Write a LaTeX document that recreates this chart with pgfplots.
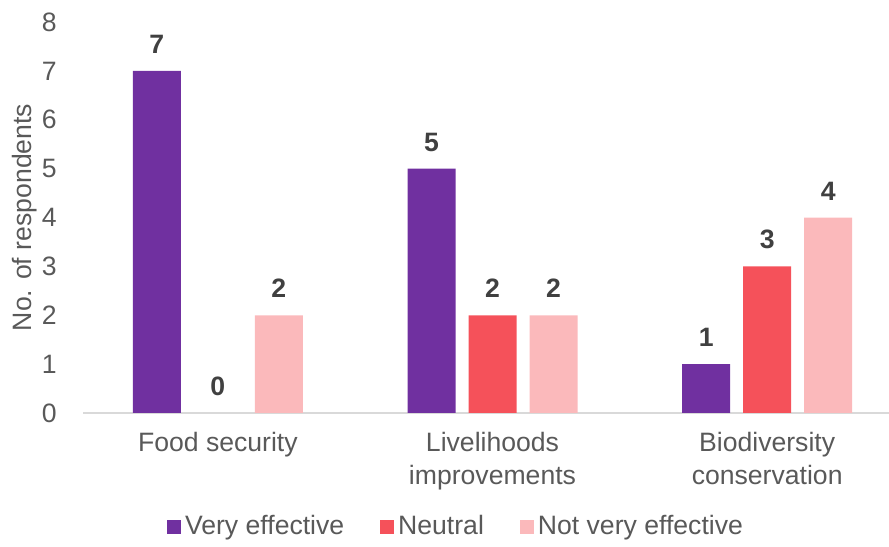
\documentclass[border=0pt]{standalone}
\usepackage{fontspec}
\setmainfont{Liberation Sans}
\usepackage{pgfplots}
\pgfplotsset{compat=1.18}
\definecolor{cPurple}{HTML}{7030A0}
\definecolor{cRed}{HTML}{F5515A}
\definecolor{cPink}{HTML}{FBB9BB}
\definecolor{txt}{HTML}{595959}
\definecolor{lbl}{HTML}{404040}
\definecolor{axl}{HTML}{D9D9D9}
\begin{document}
\begin{tikzpicture}
\fontsize{13.3bp}{16.5bp}\selectfont
\begin{axis}[
  at={(41.5bp,67bp)}, anchor=south west,
  scale only axis, width=403bp, height=195.5bp,
  ybar=6.5bp, bar width=24bp,
  xmin=-0.491, xmax=2.4436, ymin=0, ymax=8,
  xtick={0,1,2},
  xticklabels={{Food security},{Livelihoods\\improvements},{Biodiversity\\conservation}},
  ytick={0,1,...,8},
  major tick length=0,
  axis x line*=bottom, axis y line*=left,
  axis line style={-},
  x axis line style={draw=axl, line width=0.75bp},
  y axis line style={draw=none},
  /pgf/number format/assume math mode=true,
  tick label style={font=\fontsize{13.3bp}{16.5bp}\selectfont, text=txt},
  xticklabel style={align=center, anchor=north, yshift=-5bp},
  yticklabel style={anchor=east, xshift=-8.5bp},
  ylabel={No. of respondents},
  ylabel style={at={(axis description cs:-0.073,0.5)}, anchor=center, rotate=0, font=\fontsize{13.3bp}{16bp}\selectfont, text=txt},
  nodes near coords,
  nodes near coords style={font=\bfseries\fontsize{13.3bp}{16bp}\selectfont, text=lbl, yshift=4bp},
  legend columns=3,
  legend style={at={(axis description cs:0.464,-0.2916)}, anchor=center, draw=none,
    font=\fontsize{13.3bp}{16bp}\selectfont, text=txt,
    /tikz/every even column/.append style={column sep=16bp}},
  legend image code/.code={\fill[#1] (0bp,-3.5bp) rectangle (7bp,3.5bp);},
]
\addplot[fill=cPurple, draw=none] coordinates {(0,7) (1,5) (2,1)};
\addplot[fill=cRed, draw=none] coordinates {(0,0) (1,2) (2,3)};
\addplot[fill=cPink, draw=none] coordinates {(0,2) (1,2) (2,4)};
\legend{Very effective, Neutral, Not very effective}
\end{axis}
\pgfresetboundingbox
\useasboundingbox (0,0) rectangle (444.5bp,273.5bp);
\end{tikzpicture}
\end{document}
